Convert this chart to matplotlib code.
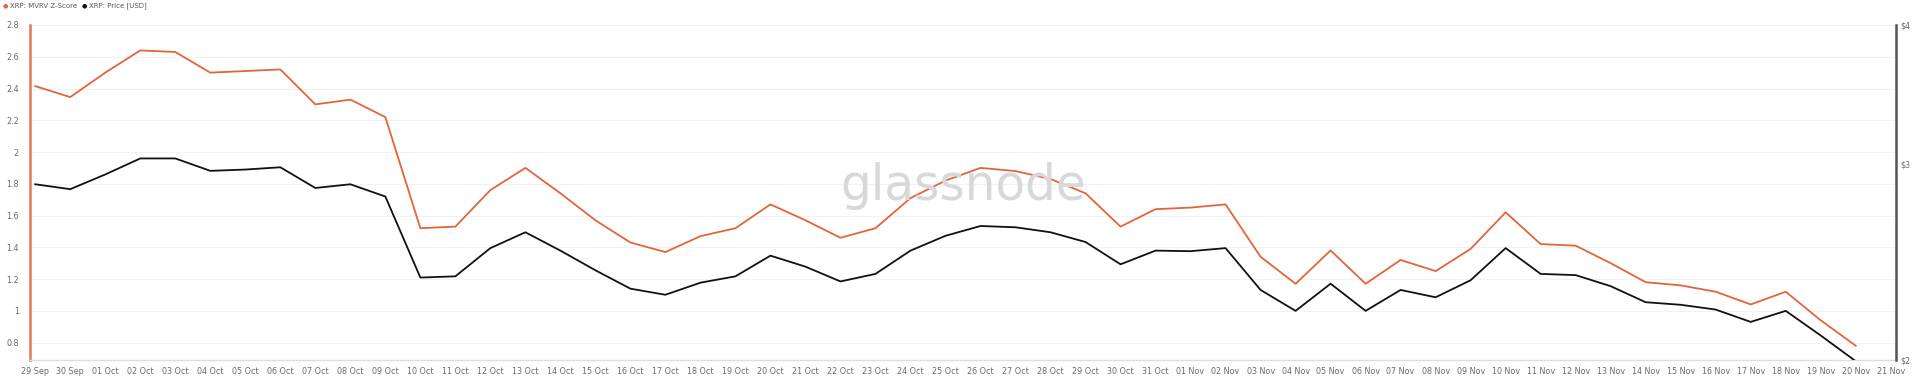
import matplotlib.pyplot as plt
from matplotlib.ticker import FixedLocator, NullLocator

dates = ["29 Sep", "30 Sep", "01 Oct", "02 Oct", "03 Oct", "04 Oct", "05 Oct", "06 Oct",
         "07 Oct", "08 Oct", "09 Oct", "10 Oct", "11 Oct", "12 Oct", "13 Oct", "14 Oct",
         "15 Oct", "16 Oct", "17 Oct", "18 Oct", "19 Oct", "20 Oct", "21 Oct", "22 Oct",
         "23 Oct", "24 Oct", "25 Oct", "26 Oct", "27 Oct", "28 Oct", "29 Oct", "30 Oct",
         "31 Oct", "01 Nov", "02 Nov", "03 Nov", "04 Nov", "05 Nov", "06 Nov", "07 Nov",
         "08 Nov", "09 Nov", "10 Nov", "11 Nov", "12 Nov", "13 Nov", "14 Nov", "15 Nov",
         "16 Nov", "17 Nov", "18 Nov", "19 Nov", "20 Nov", "21 Nov"]

# MVRV Z-Score (left axis)
zscore = [2.415, 2.346, 2.50, 2.64, 2.63, 2.50, 2.51, 2.52, 2.30, 2.33, 2.22,
          1.52, 1.53, 1.76, 1.90, 1.74, 1.57, 1.43, 1.37, 1.47, 1.52, 1.67,
          1.57, 1.46, 1.52, 1.71, 1.82, 1.90, 1.88, 1.83, 1.74, 1.53, 1.64,
          1.65, 1.67, 1.34, 1.17, 1.38, 1.17, 1.32, 1.25, 1.39, 1.62, 1.42,
          1.41, 1.30, 1.18, 1.16, 1.12, 1.04, 1.12, 0.94, 0.78]

# price in USD (right axis, log)
price = [2.877, 2.848, 2.936, 3.035, 3.035, 2.958, 2.966, 2.98, 2.855, 2.877, 2.805,
         2.372, 2.378, 2.521, 2.605, 2.508, 2.408, 2.318, 2.289, 2.347, 2.378, 2.482,
         2.426, 2.353, 2.39, 2.508, 2.586, 2.639, 2.632, 2.605, 2.553, 2.438, 2.508,
         2.505, 2.521, 2.312, 2.214, 2.342, 2.214, 2.312, 2.277, 2.359, 2.521, 2.39,
         2.384, 2.33, 2.254, 2.242, 2.22, 2.164, 2.214, 2.104, 1.995]

z_ticks = [0.8, 1, 1.2, 1.4, 1.6, 1.8, 2, 2.2, 2.4, 2.6, 2.8]
price_ticks = [2, 3, 4]

orange = "#e0653d"
tick_col = "#6a6a6a"

fig = plt.figure(figsize=(19.2, 3.78), dpi=100)
ax = fig.add_axes([30 / 1920, 18 / 378, 1866 / 1920, 335 / 378])
x = list(range(len(zscore)))

ax.plot(x, zscore, color=orange, lw=1.3, zorder=3)
ax.set_xlim(-0.15, 53.15)
ax.set_ylim(0.69, 2.8)
ax.set_yticks(z_ticks)
ax.set_yticklabels([("%g" % t) for t in z_ticks])
ax.set_xticks(range(len(dates)))
ax.set_xticklabels(dates)
ax.tick_params(axis="both", length=0, labelsize=5.8, colors=tick_col)
ax.tick_params(axis="y", pad=8)
ax.tick_params(axis="x", pad=5)
ax.grid(axis="y", color="#f2f2f2", lw=0.8)
for s in ["top", "right"]:
    ax.spines[s].set_visible(False)
ax.spines["left"].set_color("#dc7a5c")
ax.spines["left"].set_linewidth(1.8)
ax.spines["bottom"].set_color("#dddddd")
ax.spines["bottom"].set_linewidth(1.0)

ax2 = ax.twinx()
ax2.plot(x, price, color="#111111", lw=1.3, zorder=3)
ax2.set_yscale("log")
ax2.set_ylim(2, 4)
ax2.yaxis.set_major_locator(FixedLocator(price_ticks))
ax2.yaxis.set_minor_locator(NullLocator())
ax2.set_yticklabels(["$%d" % t for t in price_ticks])
ax2.tick_params(axis="y", length=0, labelsize=5.8, colors=tick_col, pad=3)
for s in ["top", "left", "bottom"]:
    ax2.spines[s].set_visible(False)
ax2.spines["right"].set_color("#555555")
ax2.spines["right"].set_linewidth(1.8)

fig.text(963 / 1920, 1 - 200 / 378, "glassnode", fontsize=35, color="#d8d8d8",
         ha="center", va="baseline", family="DejaVu Sans", zorder=0)

# legend row
ly = 1 - 6 / 378
fig.text(3 / 1920, ly, "\u25cf", color=orange, fontsize=4.5, va="center")
fig.text(10 / 1920, ly, "XRP: MVRV Z-Score", color="#555555", fontsize=5, va="center")
fig.text(82 / 1920, ly, "\u25cf", color="#111111", fontsize=4.5, va="center")
fig.text(89 / 1920, ly, "XRP: Price [USD]", color="#555555", fontsize=5, va="center")

fig.savefig("out.png", dpi=100)
